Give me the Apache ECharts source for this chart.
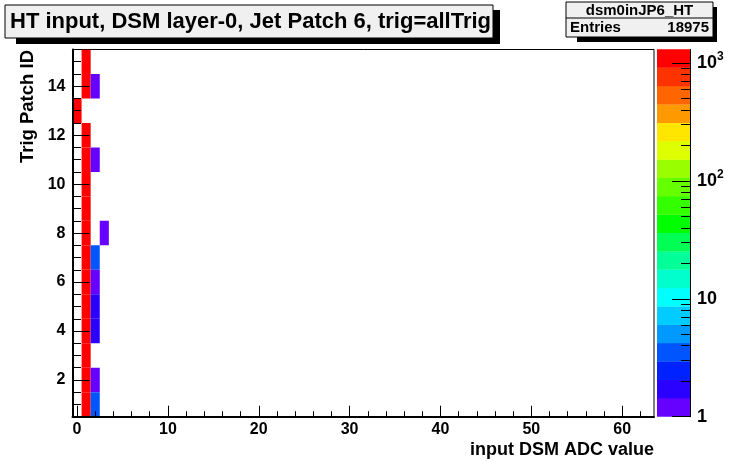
<!DOCTYPE html>
<html>
<head>
<meta charset="utf-8">
<script src="https://cdn.jsdelivr.net/npm/echarts@6/dist/echarts.min.js"></script>
<style>
  html, body { margin: 0; padding: 0; background: #fff; }
  #chart { width: 738px; height: 462px; }
</style>
</head>
<body>
<div id="chart"></div>
<script>
// histogram cells: ADC bin (x), trigger patch id (y), entries
const cellX = [1, 1, 1, 1, 1, 1, 1, 1, 1, 1, 1, 1, 0, 1, 1,
               2, 2, 3, 2, 2, 2, 2, 2, 2];
const cellY = [1, 2, 3, 4, 5, 6, 7, 8, 9, 10, 11, 12, 13, 14, 15,
               14, 11, 8, 7, 6, 5, 4, 2, 1];
const cellCount = [1262, 1270, 1255, 1281, 1248, 1266, 1259, 1274, 1263, 1252, 1268, 1300, 1245, 1257, 1260,
                   1, 1, 1, 3, 1, 2, 2, 1, 3];

const xTicks = [0, 10, 20, 30, 40, 50, 60];
const yTicks = [2, 4, 6, 8, 10, 12, 14];
const zTicks = [1, 10, 100, 1000];

// ROOT palette, 20 contour levels, bottom -> top
const paletteColors = ['#6600ff', '#2a00ff', '#0022ff', '#0055ff', '#0099ff',
                       '#00ccff', '#00ffff', '#00ffcc', '#00ff99', '#00ff55',
                       '#00ff00', '#33ff00', '#66ff00', '#99ff00', '#ddff00',
                       '#ffe600', '#ff9900', '#ff6600', '#ff3300', '#ff0000'];

const FONT = '"Liberation Sans", Arial, Helvetica, sans-serif';
const nLevels = paletteColors.length;
const zLogMax = Math.log10(Math.max(...cellCount));

// minor tick positions
const xMinor = [];
for (let v = 2; v <= 62; v += 2) if (v % 10 !== 0) xMinor.push(v);
const yMinor = [];
for (let v = 1; v <= 15.5; v += 0.5) if (yTicks.indexOf(v) < 0) yMinor.push(v);
const zMinor = [];
for (let d = 1; d <= 100; d *= 10) {
  for (let k = 2; k <= 9; k++) zMinor.push(Math.log10(k * d));
}

const chart = echarts.init(document.getElementById('chart'));

const cellData = cellX.map((x, i) => [x, cellY[i], cellCount[i]]);
const bandData = paletteColors.map((c, i) => [i]);

const tickLabelStyle = {
  color: '#000',
  fontSize: 16,
  fontWeight: 'bold',
  fontFamily: FONT
};
const blackTick = { color: '#000', width: 1 };

const plotRect = { left: 72.5, top: 49.5, width: 581.5, height: 367.2 };
const barRect = { left: 657, top: 49.5, width: 33, height: 367.2 };

const option = {
  animation: false,
  backgroundColor: '#fff',
  grid: [
    Object.assign({ show: true, borderColor: '#000', borderWidth: 1, backgroundColor: 'transparent' }, plotRect),
    Object.assign({}, barRect),
    Object.assign({}, plotRect),   // minor ticks of the frame
    Object.assign({}, barRect)     // minor ticks of the palette
  ],
  xAxis: [
    {
      gridIndex: 0, type: 'value', min: -0.5, max: 63.5, position: 'bottom', z: 5,
      axisLine: { onZero: false, lineStyle: { color: '#000', width: 2 } },
      axisTick: { inside: true, length: 11, customValues: xTicks, lineStyle: blackTick },
      axisLabel: Object.assign({ customValues: xTicks, margin: 5 }, tickLabelStyle),
      splitLine: { show: false }
    },
    { gridIndex: 1, type: 'value', min: 1, max: 2, show: false, axisLine: { onZero: false } },
    {
      gridIndex: 2, type: 'value', min: -0.5, max: 63.5, position: 'bottom', z: 5,
      axisLine: { show: false, onZero: false },
      axisTick: { inside: true, length: 5.5, customValues: xMinor, lineStyle: blackTick },
      axisLabel: { show: false },
      splitLine: { show: false }
    },
    { gridIndex: 3, type: 'value', min: 1, max: 2, show: false, axisLine: { onZero: false } }
  ],
  yAxis: [
    {
      gridIndex: 0, type: 'value', min: 0.5, max: 15.5, position: 'left', z: 5,
      axisLine: { onZero: false, lineStyle: { color: '#000', width: 2 } },
      axisTick: { inside: true, length: 17, customValues: yTicks, lineStyle: blackTick },
      axisLabel: Object.assign({ customValues: yTicks, margin: 7 }, tickLabelStyle),
      splitLine: { show: false }
    },
    {
      gridIndex: 1, type: 'value', min: 0, max: zLogMax, position: 'right', z: 5,
      axisLine: { show: true, onZero: false, lineStyle: { color: '#000', width: 1 } },
      axisTick: { inside: true, length: 18, customValues: zTicks.map(Math.log10), lineStyle: blackTick },
      axisLabel: {
        customValues: zTicks.map(Math.log10),
        margin: 7,
        formatter: function (v) {
          const e = Math.round(v);
          if (e === 0) return '{b|1}';
          if (e === 1) return '{b|10}';
          return '{b|10}{s|' + e + '}';
        },
        rich: {
          b: { fontSize: 18, fontWeight: 'bold', fontFamily: FONT, color: '#000', lineHeight: 24 },
          s: { fontSize: 12, fontWeight: 'bold', fontFamily: FONT, color: '#000', verticalAlign: 'top', lineHeight: 12 }
        }
      },
      splitLine: { show: false }
    },
    {
      gridIndex: 2, type: 'value', min: 0.5, max: 15.5, position: 'left', z: 5,
      axisLine: { show: false, onZero: false },
      axisTick: { inside: true, length: 8.5, customValues: yMinor, lineStyle: blackTick },
      axisLabel: { show: false },
      splitLine: { show: false }
    },
    {
      gridIndex: 3, type: 'value', min: 0, max: zLogMax, position: 'right', z: 5,
      axisLine: { show: false, onZero: false },
      axisTick: { inside: true, length: 9, customValues: zMinor, lineStyle: blackTick },
      axisLabel: { show: false },
      splitLine: { show: false }
    }
  ],
  series: [
    {
      type: 'custom',
      xAxisIndex: 0, yAxisIndex: 0,
      z: 2,
      clip: true,
      data: cellData,
      encode: { x: 0, y: 1 },
      renderItem: function (params, api) {
        const x = api.value(0), y = api.value(1), c = api.value(2);
        const p0 = api.coord([x - 0.5, y + 0.5]);
        const p1 = api.coord([x + 0.5, y - 0.5]);
        let band = Math.floor(Math.log10(c) / zLogMax * nLevels);
        band = Math.min(nLevels - 1, Math.max(0, band));
        return {
          type: 'rect',
          shape: { x: p0[0], y: p0[1], width: p1[0] - p0[0], height: p1[1] - p0[1] },
          style: { fill: paletteColors[band] }
        };
      }
    },
    {
      type: 'custom',
      xAxisIndex: 1, yAxisIndex: 1,
      z: 2,
      data: bandData,
      encode: { y: 0 },
      renderItem: function (params, api) {
        const i = api.value(0);
        const lo = i * zLogMax / nLevels;
        const hi = (i + 1) * zLogMax / nLevels;
        const p0 = api.coord([1, hi]);
        const p1 = api.coord([2, lo]);
        return {
          type: 'rect',
          shape: { x: p0[0], y: p0[1] - 0.3, width: p1[0] - p0[0], height: p1[1] - p0[1] + 0.3 },
          style: { fill: paletteColors[i] }
        };
      }
    }
  ],
  graphic: [
    // title pave
    { type: 'rect', shape: { x: 16, y: 10, width: 484, height: 34 }, style: { fill: '#000' }, z: 10 },
    { type: 'rect', shape: { x: 5, y: 5, width: 488, height: 33 }, style: { fill: '#f0f0f0', stroke: '#000', lineWidth: 1 }, z: 11 },
    {
      type: 'text', x: 10, y: 22, z: 12,
      style: {
        text: 'HT input, DSM layer-0, Jet Patch 6, trig=allTrig',
        fill: '#000', font: 'bold 22px ' + FONT, align: 'left', verticalAlign: 'middle'
      }
    },
    // stats box
    { type: 'rect', shape: { x: 577, y: 7, width: 140, height: 35 }, style: { fill: '#000' }, z: 10 },
    { type: 'rect', shape: { x: 566, y: 2, width: 147, height: 35 }, style: { fill: '#f0f0f0', stroke: '#000', lineWidth: 1 }, z: 11 },
    { type: 'line', shape: { x1: 566, y1: 18, x2: 713, y2: 18 }, style: { stroke: '#000', lineWidth: 1 }, z: 12 },
    {
      type: 'text', x: 639.5, y: 10.5, z: 12,
      style: { text: 'dsm0inJP6_HT', fill: '#000', font: 'bold 15px ' + FONT, align: 'center', verticalAlign: 'middle' }
    },
    {
      type: 'text', x: 570, y: 28, z: 12,
      style: { text: 'Entries', fill: '#000', font: 'bold 15px ' + FONT, align: 'left', verticalAlign: 'middle' }
    },
    {
      type: 'text', x: 709, y: 28, z: 12,
      style: { text: '18975', fill: '#000', font: 'bold 15px ' + FONT, align: 'right', verticalAlign: 'middle' }
    },
    // axis titles
    {
      type: 'text', x: 654, y: 450, z: 12,
      style: { text: 'input DSM ADC value', fill: '#000', font: 'bold 18px ' + FONT, align: 'right', verticalAlign: 'middle' }
    },
    {
      type: 'text', x: 28, y: 50, rotation: Math.PI / 2, z: 12,
      style: { text: 'Trig Patch ID', fill: '#000', font: 'bold 18.5px ' + FONT, align: 'right', verticalAlign: 'middle' }
    }
  ]
};

chart.setOption(option);
</script>
</body>
</html>
